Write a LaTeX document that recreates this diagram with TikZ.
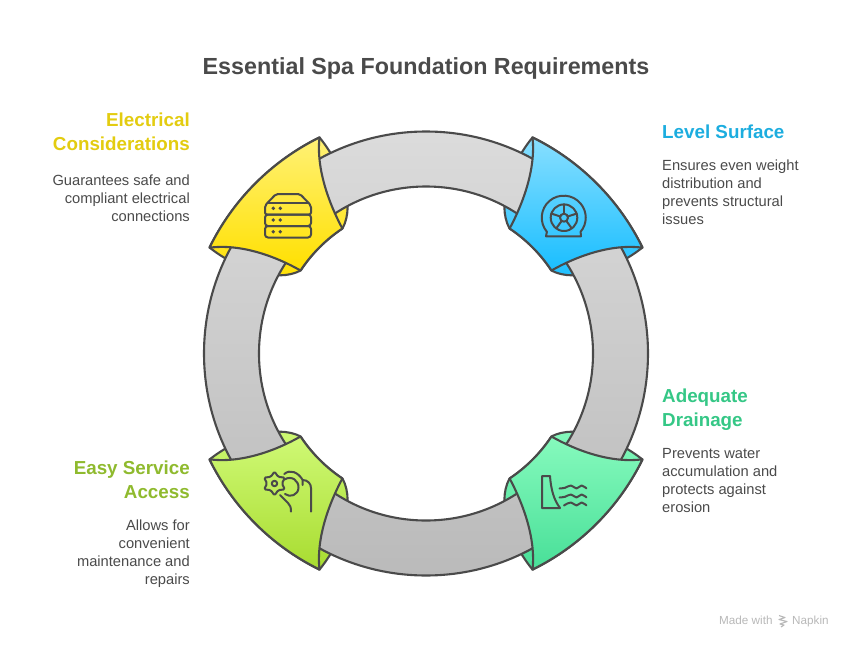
\documentclass[tikz,border=0pt]{standalone}
\usepackage{fontspec}
\setmainfont{Liberation Sans}
\usetikzlibrary{shapes.geometric}

\definecolor{inkgray}{HTML}{4A4A4A}
\definecolor{yellowtop}{HTML}{FFF176}
\definecolor{yellowbot}{HTML}{FFE000}
\definecolor{bluetop}{HTML}{88DFFF}
\definecolor{bluebot}{HTML}{1ABEFF}
\definecolor{limetop}{HTML}{CFF975}
\definecolor{limebot}{HTML}{A8DC30}
\definecolor{minttop}{HTML}{86FABD}
\definecolor{mintbot}{HTML}{48DF98}
\definecolor{yellowhead}{HTML}{E3CC10}
\definecolor{bluehead}{HTML}{1CADDF}
\definecolor{limehead}{HTML}{8FBA2E}
\definecolor{minthead}{HTML}{35C786}

\begin{document}
\begin{tikzpicture}[x=1pt,y=-1pt,
    line join=round,
    outline/.style={draw=inkgray, line width=2.1pt},
    icon/.style={draw=inkgray, line width=2pt, line cap=round},
    heading/.style={font=\bfseries\fontsize{18.8}{24}\selectfont, inner sep=0pt},
    body/.style={font=\fontsize{14.7}{18}\selectfont, text=inkgray, inner sep=0pt}]
    \useasboundingbox (0,0) rectangle (852,648);

    % Back flaps of the four petals
    \foreach \sx/\sy/\ctop/\cbot in {1/1/yellowtop/yellowbot, -1/1/bluetop/bluebot, 1/-1/limetop/limebot, -1/-1/minttop/mintbot} {
        \begin{scope}[shift={(426,353.5)}, xscale=\sx, yscale=\sy]
            \path[outline, top color=\ctop, bottom color=\cbot] (-106.5,-216) .. controls (-85,-190) and (-70,-150) .. (-83.5,-125)
                arc[start angle=-123.7, end angle=-146.5, radius=150]
                .. controls (-150,-70) and (-190,-85) .. (-216.5,-106)
                arc[start angle=-153.9, end angle=-116.2, radius=241] -- cycle;
        \end{scope}
    }

    % Grey ring
    \path[outline, top color=black!14, bottom color=black!27, even odd rule] (426,353.5) circle[radius=222] (426,353.5) circle[radius=167];

    % Front faces of the petals
    \foreach \sx/\sy/\ctop/\cbot in {1/1/yellowtop/yellowbot, -1/1/bluetop/bluebot, 1/-1/limetop/limebot, -1/-1/minttop/mintbot} {
        \begin{scope}[shift={(426,353.5)}, xscale=\sx, yscale=\sy]
            \path[outline, top color=\ctop, bottom color=\cbot] (-106.5,-216)
                arc[start angle=-116.2, end angle=-153.9, radius=241]
                .. controls (-185,-110) and (-150,-97) .. (-125.5,-83)
                arc[start angle=-146.5, end angle=-123.7, radius=150]
                .. controls (-97,-150) and (-110,-185) .. (-106.5,-216) -- cycle;
        \end{scope}
    }

    % Server stack
    \draw[icon, rounded corners=2pt] (265,214.5) -- (265,205.5) -- (276,194) -- (300,194) -- (311,205.5) -- (311,214.5) -- cycle;
    \draw[icon] (268,203) -- (308,203);
    \draw[icon, rounded corners=3pt] (265,214.5) rectangle (311,226);
    \draw[icon, rounded corners=3pt] (265,226) rectangle (311,237.5);
    \foreach \y in {208.3,220,231.7} {
        \fill[inkgray] (273.3,\y) circle[radius=1.9];
        \fill[inkgray] (280.3,\y) circle[radius=1.9];
    }

    % Tyre
    \draw[icon] (546,236.3) -- (546.9,231.8) arc[start angle=140, end angle=400, radius=22] -- (581,236.3) -- cycle;
    \draw[icon] (564,217.7) circle[radius=13.3];
    \draw[icon] (564,217.7) circle[radius=4];
    \foreach \a in {-90,-162,-18,54,126} {
        \draw[icon] (564,217.7) ++(\a:4) -- ++(\a:9.3);
    }

    % Hand with cog
    \node[star, star points=6, star point ratio=1.6, minimum size=24pt, inner sep=0pt, icon, rounded corners=1.5pt] (cog) at (274.5,483.5) {};
    \draw[icon] (274.5,483.5) circle[radius=2.7];
    \draw[icon] (284.3,474) .. controls (290,469) and (298,472) .. (302.7,480) -- (302.7,485);
    \draw[icon] (302.7,480) .. controls (308,480) and (311,484) .. (311,488) -- (311,511.7);
    \draw[icon] (284.3,479.5) .. controls (292,475) and (299,481) .. (298.5,488) .. controls (298,495) and (290,498) .. (285,494);
    \draw[icon] (280,495) -- (288,503) .. controls (290,505) and (291,507) .. (291,511.7);

    % Dam and water
    \draw[icon] (542,476) -- (550,476) .. controls (551,490) and (554,500) .. (560,508) -- (542,508) -- cycle;
    \foreach \y/\xs in {487/559.5, 496/559.5, 504/564} {
        \draw[icon] plot[smooth, tension=.7] coordinates {(\xs,\y+1.5) (565,\y+.8) (571,\y-1.5) (576.5,\y+1.5) (581.5,\y-1.5) (586.5,\y+1.5)};
    }

    % Title
    \node[anchor=base, font=\bfseries\fontsize{23.3}{28}\selectfont, text=inkgray, inner sep=0pt] (title) at (426,74.5) {Essential Spa Foundation Requirements};

    % Electrical Considerations
    \node[heading, text=yellowhead, anchor=north east, align=right] (electricalhead) at (190,112.5) {Electrical\\Considerations};
    \node[body, anchor=north east, align=right] (electricalbody) at (190,175) {Guarantees safe and\\compliant electrical\\connections};

    % Level Surface
    \node[heading, text=bluehead, anchor=north west, align=left] (levelhead) at (662,124.5) {Level Surface};
    \node[body, anchor=north west, align=left] (levelbody) at (662,159.5) {Ensures even weight\\distribution and\\prevents structural\\issues};

    % Adequate Drainage
    \node[heading, text=minthead, anchor=north west, align=left] (drainagehead) at (662,388.5) {Adequate\\Drainage};
    \node[body, anchor=north west, align=left] (drainagebody) at (662,448.5) {Prevents water\\accumulation and\\protects against\\erosion};

    % Easy Service Access
    \node[heading, text=limehead, anchor=north east, align=right] (accesshead) at (190,460.5) {Easy Service\\Access};
    \node[body, anchor=north east, align=right] (accessbody) at (190,519.5) {Allows for\\convenient\\maintenance and\\repairs};

    % Footer
    \node[anchor=base west, font=\fontsize{11.7}{14}\selectfont, text=black!28, inner sep=0pt] (madewith) at (719,624) {Made with};
    \node[anchor=base west, font=\fontsize{11.7}{14}\selectfont, text=black!28, inner sep=0pt] (napkin) at (792,624) {Napkin};
    \draw[black!28, line width=1.1pt] (779,615.5) -- (785,617.5) -- (779,619.5) -- (787,621.5) -- (780,624) -- (784,625) -- (781,627);
\end{tikzpicture}
\end{document}
